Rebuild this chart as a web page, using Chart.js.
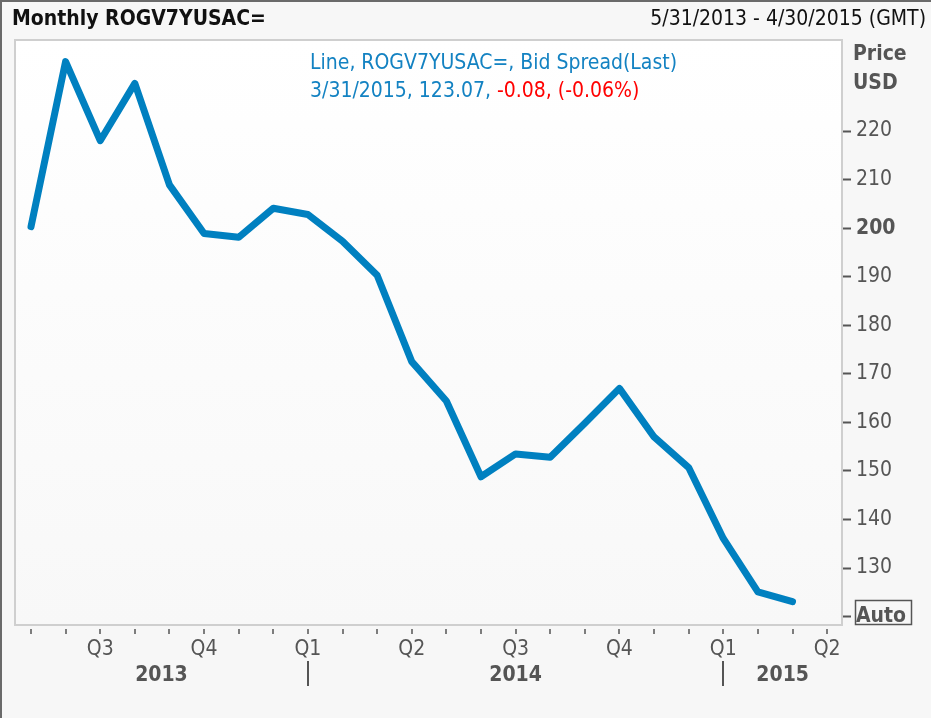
<!DOCTYPE html>
<html>
<head>
<meta charset="utf-8">
<script src="https://cdn.jsdelivr.net/npm/chart.js@4"></script>
<style>
  html, body { margin:0; padding:0; background:#f7f7f7; }
  #wrap { width:931px; height:718px; position:relative; }
</style>
</head>
<body>
<div id="wrap"><canvas id="chart" width="931" height="718"></canvas></div>
<script>
/* Monthly ROGV7YUSAC= bid spread, May 2013 - Apr 2015 */
const MONTHS = ['May 13','Jun 13','Jul 13','Aug 13','Sep 13','Oct 13','Nov 13','Dec 13',
  'Jan 14','Feb 14','Mar 14','Apr 14','May 14','Jun 14','Jul 14','Aug 14','Sep 14','Oct 14','Nov 14','Dec 14',
  'Jan 15','Feb 15','Mar 15','Apr 15'];
const QUARTER_LABELS = ['','','Q3','','','Q4','','','Q1','','','Q2','','','Q3','','','Q4','','','Q1','','','Q2'];
const VALUES = [200.3, 234.3, 218.0, 229.8, 208.9, 198.9, 198.1, 204.1, 202.8, 197.3, 190.3, 172.5,
  164.4, 148.8, 153.5, 152.8, 159.8, 167.0, 157.0, 150.7, 136.1, 125.1, 123.07, null];
const YEARS = ['2013','2014','2015'];
const YEAR_START = [0, 8, 20];     // month index where each year starts
const Y_TICKS = [120,130,140,150,160,170,180,190,200,210,220];

const FONT = '"DejaVu Sans Condensed", "Liberation Sans Narrow", "Noto Sans", sans-serif';
const FS = 21;
const GRAY = '#555555';
const BLUE = '#0080c0';

const decor = {
  id: 'decor',
  beforeDraw(chart){
    const {ctx, chartArea:a} = chart;
    ctx.save();
    ctx.fillStyle = '#f7f7f7';
    ctx.fillRect(0, 0, chart.width, chart.height);
    const g = ctx.createLinearGradient(0, a.top, 0, a.bottom);
    g.addColorStop(0, '#ffffff');
    g.addColorStop(1, '#f8f8f8');
    ctx.fillStyle = g;
    ctx.fillRect(a.left, a.top, a.right - a.left, a.bottom - a.top);
    ctx.restore();
  },
  afterDraw(chart){
    const {ctx, chartArea:a} = chart;
    const xs = chart.scales.x;
    ctx.save();
    // outer frame
    ctx.fillStyle = '#6a6a6a';
    ctx.fillRect(0, 0, chart.width, 2);
    ctx.fillRect(0, 0, 2, chart.height);
    // plot frame
    ctx.strokeStyle = '#cfcfcf';
    ctx.lineWidth = 2;
    ctx.strokeRect(a.left, a.top, a.right - a.left, a.bottom - a.top);
    // month ticks
    ctx.strokeStyle = GRAY;
    ctx.lineWidth = 1.5;
    MONTHS.forEach((m, i) => {
      const x = Math.round(xs.getPixelForValue(i));
      ctx.beginPath(); ctx.moveTo(x, a.bottom + 4); ctx.lineTo(x, a.bottom + 9); ctx.stroke();
    });
    // years and separators
    ctx.fillStyle = GRAY;
    ctx.font = 'bold ' + FS + 'px ' + FONT;
    ctx.textAlign = 'center';
    ctx.textBaseline = 'middle';
    YEARS.forEach((y, k) => {
      const x0 = k === 0 ? a.left : xs.getPixelForValue(YEAR_START[k]);
      const x1 = k === YEARS.length - 1 ? a.right : xs.getPixelForValue(YEAR_START[k + 1]);
      ctx.fillText(y, (x0 + x1) / 2, 676);
      if (k > 0){
        ctx.lineWidth = 2;
        ctx.beginPath(); ctx.moveTo(Math.round(x0), 661); ctx.lineTo(Math.round(x0), 686); ctx.stroke();
      }
    });
    // header
    ctx.textBaseline = 'middle';
    ctx.fillStyle = '#111';
    ctx.textAlign = 'left';
    ctx.font = 'bold ' + FS + 'px ' + FONT;
    ctx.fillText('Monthly ROGV7YUSAC=', 12, 20);
    ctx.textAlign = 'right';
    ctx.font = FS + 'px ' + FONT;
    ctx.fillText('5/31/2013 - 4/30/2015 (GMT)', 926, 20);
    // axis title
    ctx.fillStyle = GRAY;
    ctx.textAlign = 'left';
    ctx.font = 'bold ' + FS + 'px ' + FONT;
    ctx.fillText('Price', 853, 55);
    ctx.fillText('USD', 853, 84);
    // Auto box
    ctx.strokeStyle = GRAY;
    ctx.lineWidth = 1.5;
    ctx.strokeRect(855.5, 600.5, 56, 24);
    // legend
    ctx.font = FS + 'px ' + FONT;
    ctx.fillStyle = '#1382c2';
    ctx.fillText('Line, ROGV7YUSAC=, Bid Spread(Last)', 310, 64);
    const last = VALUES[VALUES.length - 2];
    const p1 = '3/31/2015, ' + last.toFixed(2) + ', ';
    ctx.fillText(p1, 310, 92);
    ctx.fillStyle = '#ff0000';
    ctx.fillText('-0.08, (-0.06%)', 310 + ctx.measureText(p1).width, 92);
    ctx.restore();
  }
};

new Chart(document.getElementById('chart'), {
  type: 'line',
  data: {
    datasets: [{
      data: VALUES.map((v, i) => ({x: i, y: v})),
      borderColor: BLUE,
      borderWidth: 7,
      borderCapStyle: 'round',
      borderJoinStyle: 'round',
      pointRadius: 0,
      tension: 0,
      spanGaps: false
    }]
  },
  options: {
    responsive: false,
    animation: false,
    layout: { padding: { left: 15, top: 40, right: 0, bottom: 0 } },
    plugins: { legend: { display: false }, tooltip: { enabled: false } },
    scales: {
      x: {
        type: 'linear',
        min: -0.462, max: 23.43,
        afterBuildTicks: s => { s.ticks = MONTHS.map((m, i) => ({value: i})); },
        afterFit: s => { s.height = 93; },
        grid: { display: false, drawTicks: false },
        border: { display: false },
        ticks: {
          autoSkip: false, maxRotation: 0, padding: 12,
          color: GRAY, font: { family: FONT, size: FS },
          callback: v => QUARTER_LABELS[v] || ''
        }
      },
      y: {
        position: 'right',
        min: 118.27, max: 238.74,
        afterBuildTicks: s => { s.ticks = Y_TICKS.map(v => ({value: v})); },
        afterFit: s => { s.width = 89; },
        grid: { drawOnChartArea: false, drawTicks: true, tickLength: 9, tickColor: GRAY, tickWidth: 2 },
        border: { display: false },
        ticks: {
          padding: 5, color: GRAY,
          font: c => ({ family: FONT, size: FS, weight: (c.tick && (c.tick.value === 200 || c.tick.value === 120)) ? 'bold' : 'normal' }),
          callback: v => v === 120 ? 'Auto' : String(v)
        }
      }
    }
  },
  plugins: [decor]
});
</script>
</body>
</html>
